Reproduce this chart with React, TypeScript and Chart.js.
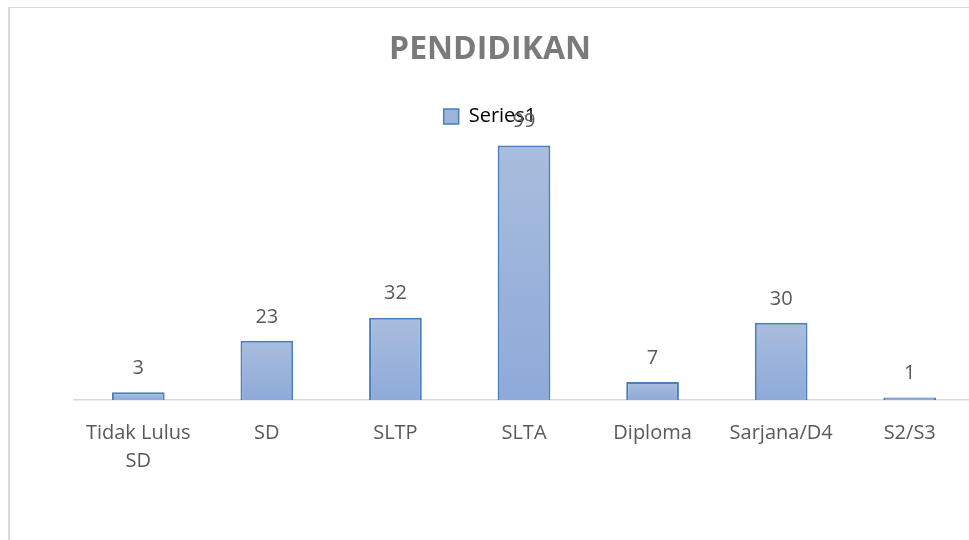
import React, { useEffect, useRef } from "react";
import { Chart, registerables } from "chart.js";

Chart.register(...registerables);

const categories: (string | string[])[] = [
  ["Tidak Lulus", "SD"],
  "SD",
  "SLTP",
  "SLTA",
  "Diploma",
  "Sarjana/D4",
  "S2/S3",
];
const seriesName = "Series1";
const values = [3, 23, 32, 99, 7, 30, 1];
const titleText = "PENDIDIKAN";

const FONT = "'Open Sans', 'DejaVu Sans', sans-serif";

const dataLabels = {
  id: "dataLabels",
  afterDatasetsDraw(chart: any) {
    const { ctx } = chart;
    const meta = chart.getDatasetMeta(0);
    ctx.save();
    ctx.font = `20px ${FONT}`;
    ctx.fillStyle = "#595959";
    ctx.textAlign = "center";
    ctx.textBaseline = "middle";
    meta.data.forEach((bar: any, i: number) => {
      ctx.fillText(String(values[i]), bar.x, bar.y - 24);
    });
    ctx.restore();
  },
};

export default function App() {
  const ref = useRef<HTMLCanvasElement | null>(null);
  useEffect(() => {
    if (!ref.current) return;
    const chart = new Chart(ref.current, {
      type: "bar",
      data: {
        labels: categories,
        datasets: [
          {
            label: seriesName,
            data: values,
            backgroundColor: (c: any) => {
              const ch = c.chart;
              if (!ch.chartArea || c.parsed == null) return "#9db4da";
              const ys = ch.scales.y;
              const top = ys.getPixelForValue(c.parsed.y);
              const bottom = ys.getPixelForValue(0);
              if (!isFinite(top) || !isFinite(bottom) || top === bottom) return "#9db4da";
              const g = ch.ctx.createLinearGradient(0, top, 0, bottom);
              g.addColorStop(0, "#a9bddd");
              g.addColorStop(1, "#8eaad9");
              return g;
            },
            borderColor: "#4a7ebb",
            borderWidth: 2,
            categoryPercentage: 1,
            barPercentage: 0.41,
          },
        ],
      },
      options: {
        animation: false,
        responsive: false,
        layout: { padding: { left: 0, right: 0, top: 0, bottom: 0 } },
        plugins: {
          title: {
            display: true,
            text: titleText,
            color: "#7a7a7a",
            font: { family: FONT, size: 32, weight: "bold", lineHeight: 1.2 },
            padding: { top: 31, bottom: 27 },
          },
          legend: {
            display: true,
            position: "top",
            labels: {
              font: { family: FONT, size: 20 },
              color: "#595959",
              boxWidth: 15,
              boxHeight: 15,
              padding: 10,
              generateLabels: () => [
                {
                  text: seriesName,
                  fillStyle: "#9db4da",
                  strokeStyle: "#4a7ebb",
                  lineWidth: 1.5,
                  hidden: false,
                  datasetIndex: 0,
                },
              ],
            },
          },
          tooltip: { enabled: false },
        },
        scales: {
          x: {
            grid: { display: false, drawTicks: false },
            border: { display: true, color: "#d9d9d9", width: 1.5 },
            ticks: {
              color: "#595959",
              font: { family: FONT, size: 20, lineHeight: 1.4 },
              maxRotation: 0,
              minRotation: 0,
              autoSkip: false,
              padding: 19,
            },
            afterFit: (s: any) => {
              s.height = 140;
            },
          },
          y: {
            min: 0,
            max: 102.5,
            display: true,
            grid: { display: false, drawTicks: false },
            border: { display: false },
            ticks: { display: false },
            afterFit: (s: any) => {
              s.width = 68;
            },
          },
        },
      },
      plugins: [dataLabels],
    });
    return () => chart.destroy();
  }, []);

  return (
    <div
      style={{
        position: "fixed",
        left: 0,
        top: 0,
        width: 969,
        height: 540,
        overflow: "hidden",
        background: "#ffffff",
      }}
    >
      <div
        style={{
          position: "absolute",
          left: 8,
          top: 7,
          width: 1000,
          height: 600,
          borderLeft: "2px solid #d9d9d9",
          borderTop: "1px solid #d9d9d9",
        }}
      />
      <canvas
        ref={ref}
        width={968}
        height={540}
        style={{ position: "absolute", left: 6, top: 0, width: 968, height: 540 }}
      />
    </div>
  );
}
